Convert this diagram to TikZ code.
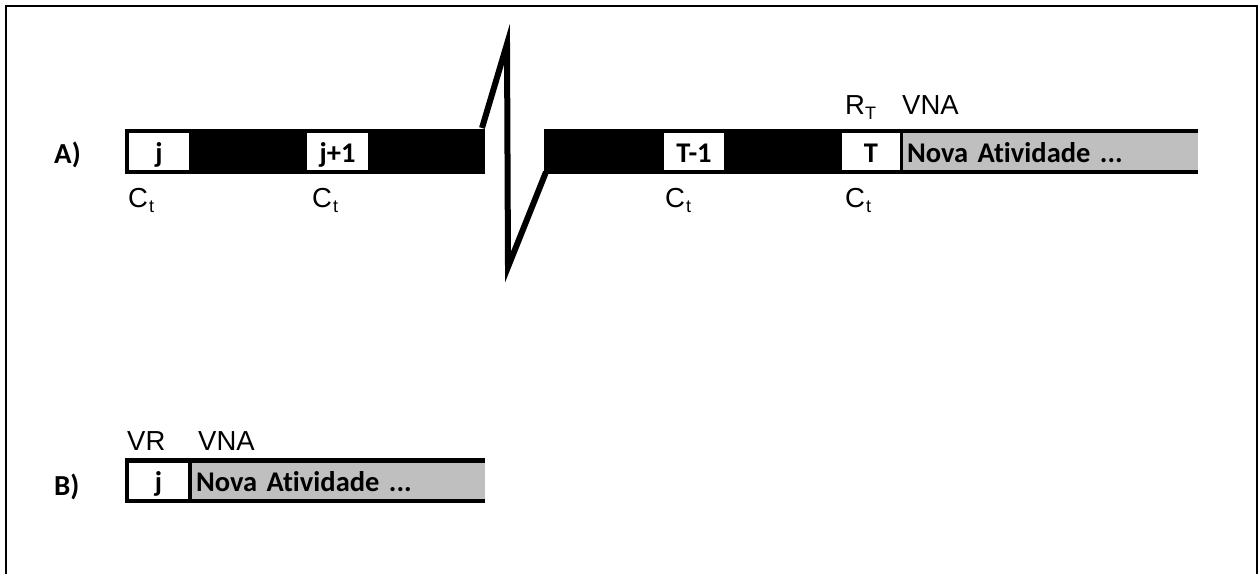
\documentclass[tikz,border=0pt]{standalone}
\usepackage{fontspec}
\setmainfont{Liberation Sans}
\newfontfamily\calfont[Ligatures={NoCommon,NoContextual}]{Carlito}
\newcommand\lsub[1]{\raisebox{-5pt}{\fontsize{18}{18}\selectfont #1}}
\begin{document}
\begin{tikzpicture}[x=1pt,y=-1pt,
  lbl/.style={font=\fontsize{27.5}{27.5}\selectfont, inner sep=0pt, anchor=base west},
  tag/.style={font=\calfont\bfseries\fontsize{29}{29}\selectfont, inner sep=0pt, anchor=base west},
  cell/.style={inner sep=0pt, font=\calfont\bfseries\fontsize{28.5}{28.5}\selectfont,
    text height=24pt, text depth=3pt, minimum height=37pt},
  wbox/.style={cell, fill=white},
  gbox/.style={cell, fill=gray75, align=left},
  bar/.style={fill=black},
  zig/.style={line width=6pt}]
\definecolor{gray75}{RGB}{191,191,191}
\useasboundingbox (0,0) rectangle (1260,574);
\draw[line width=2.5pt] (6,574) -- (6,6) -- (1257,6) -- (1257,574);

% Row A
\fill[bar] (125,129) rectangle (485,174);
\fill[bar] (544,129) rectangle (1198,174);
\node[wbox, minimum width=60pt] (j) at (159,151.5) {j};
\node[wbox, minimum width=61pt] (j1) at (337.5,151.5) {j+1};
\node[wbox, minimum width=60pt] (tm1) at (694,151.5) {T-1};
\node[wbox, minimum width=58pt] (t) at (871,151.5) {T};
\node[gbox, minimum width=295pt, text width=287pt] (nova) at (1050.5,151.5) {Nova Atividade ...};
\node[tag] (la) at (54,163) {A)};
\node[lbl] (c1) at (128,207) {C\hspace{1pt}\lsub{t}};
\node[lbl] (c2) at (312,207) {C\hspace{1pt}\lsub{t}};
\node[lbl] (c3) at (665,207) {C\hspace{1pt}\lsub{t}};
\node[lbl] (c4) at (845,207) {C\hspace{1pt}\lsub{t}};
\node[lbl] (rt) at (845,114) {R\lsub{T}};
\node[lbl] (vna) at (902,114) {VNA};
\draw[zig] (482,128) -- (507,44) -- (508,267) -- (546,172);

% Row B
\fill[bar] (125,458) rectangle (485,503);
\node[wbox, minimum width=59pt, minimum height=36pt] (bj) at (158.5,481) {j};
\node[gbox, minimum width=293pt, minimum height=36pt, text width=285pt] (bnova) at (338.5,481) {Nova Atividade ...};
\node[tag] (lb) at (54,495) {B)};
\node[lbl] (vr) at (127,450) {VR};
\node[lbl] (bvna) at (198,450) {VNA};
\end{tikzpicture}
\end{document}
